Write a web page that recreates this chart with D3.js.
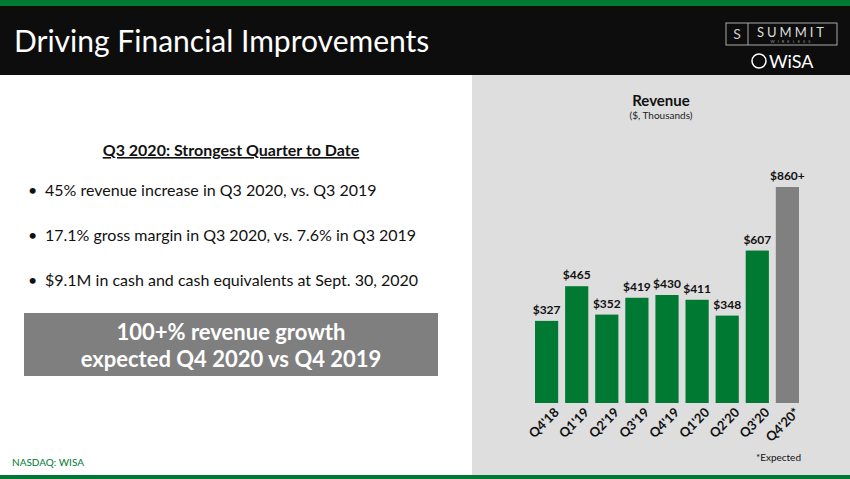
<!DOCTYPE html>
<html><head><meta charset="utf-8">
<script src="https://cdn.jsdelivr.net/npm/d3@7"></script>
<style>body{margin:0;overflow:hidden}text{font-family:Lato,sans-serif}</style>
</head><body>
<script>
var quarters = ["Q4'18","Q1'19","Q2'19","Q3'19","Q4'19","Q1'20","Q2'20","Q3'20","Q4'20*"];
var revenue = [327,465,352,419,430,411,348,607,860];
var valueLabels = ["$327","$465","$352","$419","$430","$411","$348","$607","$860+"];
var bullets = ["45% revenue increase in Q3 2020, vs. Q3 2019",
  "17.1% gross margin in Q3 2020, vs. 7.6% in Q3 2019",
  "$9.1M in cash and cash equivalents at Sept. 30, 2020"];

var svg = d3.select("body").append("svg").attr("width",850).attr("height",479);
svg.append("rect").attr("width",850).attr("height",479).attr("fill","#fff");
svg.append("rect").attr("width",850).attr("height",6).attr("fill","#007a33");
svg.append("rect").attr("y",6).attr("width",850).attr("height",69).attr("fill","#0d0d0d");
svg.append("text").attr("x",14).attr("y",52).attr("fill","#fff").attr("font-size",30).text("Driving Financial Improvements");

//logo
svg.append("rect").attr("x",726).attr("y",23).attr("width",111).attr("height",22).attr("fill","none").attr("stroke","#aaa");
svg.append("line").attr("x1",748).attr("x2",748).attr("y1",23).attr("y2",45).attr("stroke","#aaa");
svg.append("text").attr("x",737).attr("y",39).attr("text-anchor","middle").attr("fill","#ccc").attr("font-size",14).text("S");
svg.append("text").attr("x",792).attr("y",37).attr("text-anchor","middle").attr("fill","#ddd").attr("font-size",13).attr("letter-spacing",3).text("SUMMIT");
svg.append("text").attr("x",792).attr("y",43).attr("text-anchor","middle").attr("fill","#999").attr("font-size",4).attr("letter-spacing",3).text("WIRELESS");
svg.append("circle").attr("cx",759).attr("cy",61).attr("r",7).attr("fill","none").attr("stroke","#fff").attr("stroke-width",1.5);
svg.append("text").attr("x",769).attr("y",68).attr("fill","#fff").attr("font-size",18).text("WiSA");

//left text
svg.append("text").attr("x",231).attr("y",156).attr("text-anchor","middle").attr("font-size",16).attr("font-weight","bold")
  .attr("text-decoration","underline").attr("fill","#111").text("Q3 2020: Strongest Quarter to Date");
var bl = svg.selectAll(".bul").data(bullets).enter().append("g")
  .attr("transform",function(d,i){return "translate(0,"+(196+i*45)+")";});
bl.append("text").attr("x",28).attr("font-size",16).attr("fill","#111").text("•");
bl.append("text").attr("x",45).attr("font-size",16).attr("fill","#111").text(function(d){return d;});
svg.append("rect").attr("x",24).attr("y",313).attr("width",414).attr("height",63).attr("fill","#7f7f7f");
svg.append("text").attr("x",231).attr("y",340).attr("text-anchor","middle").attr("fill","#fff").attr("font-size",22).attr("font-weight","bold").text("100+% revenue growth");
svg.append("text").attr("x",231).attr("y",367).attr("text-anchor","middle").attr("fill","#fff").attr("font-size",22).attr("font-weight","bold").text("expected Q4 2020 vs Q4 2019");
svg.append("text").attr("x",12).attr("y",466).attr("fill","#007a33").attr("font-size",10).text("NASDAQ: WISA");

//chart panel
svg.append("rect").attr("x",472).attr("y",75).attr("width",378).attr("height",400).attr("fill","#dedede");
svg.append("rect").attr("y",475).attr("width",850).attr("height",4).attr("fill","#007a33");
svg.append("text").attr("x",661).attr("y",106).attr("text-anchor","middle").attr("font-size",15).attr("font-weight","bold").attr("fill","#111").text("Revenue");
svg.append("text").attr("x",661).attr("y",119).attr("text-anchor","middle").attr("font-size",10).attr("fill","#222").text("($, Thousands)");

var x = d3.scaleBand().domain(quarters).range([532,802]).paddingInner(0.23).paddingOuter(0.1);
var y = d3.scaleLinear().domain([0,860]).range([403,187]);

svg.selectAll(".bar").data(revenue).enter().append("rect")
  .attr("x",function(d,i){return x(quarters[i]);}).attr("width",x.bandwidth())
  .attr("y",function(d){return y(d);}).attr("height",function(d){return y(0)-y(d);})
  .attr("fill",function(d,i){return i==quarters.length-1?"#808080":"#007a33";});
svg.selectAll(".val").data(revenue).enter().append("text")
  .attr("x",function(d,i){return x(quarters[i])+x.bandwidth()/2;}).attr("y",function(d){return y(d)-7;})
  .attr("text-anchor","middle").attr("font-size",12).attr("font-weight","bold").attr("fill","#111")
  .text(function(d,i){return valueLabels[i];});

var ax = svg.append("g").attr("transform","translate(0,403)").call(d3.axisBottom(x).tickSize(0).tickPadding(0));
ax.select(".domain").remove();
ax.selectAll("text").attr("font-size",13).attr("font-weight","bold").attr("fill","#111")
  .attr("text-anchor","end").attr("x",2).attr("y",12).attr("dy","0.35em").attr("transform","rotate(-45)")
  .style("font-family","Lato,sans-serif");

svg.append("text").attr("x",801).attr("y",461).attr("text-anchor","end").attr("font-size",10).attr("fill","#111").text("*Expected");
</script>
</body></html>
